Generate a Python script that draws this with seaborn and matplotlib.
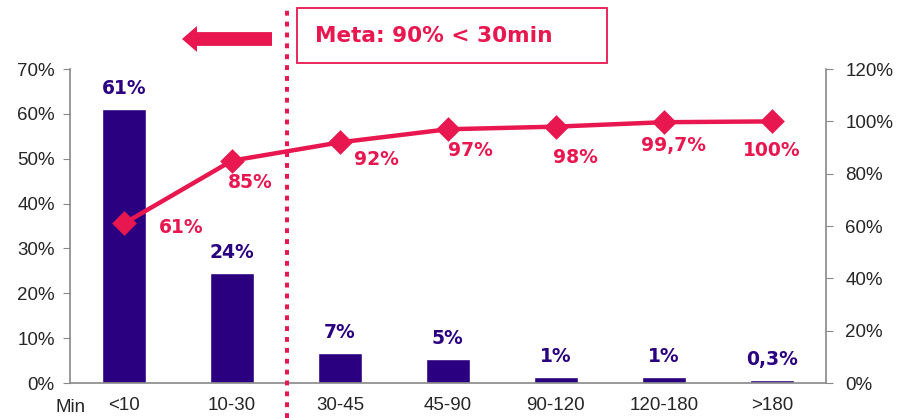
import numpy as np
import pandas as pd
import matplotlib
matplotlib.use("Agg")
import matplotlib.pyplot as plt
import seaborn as sns
from matplotlib.patches import FancyArrow, Rectangle

# ---- data ----
categories = ["<10", "10-30", "30-45", "45-90", "90-120", "120-180", ">180"]
bar_values = [61, 24.5, 6.7, 5.4, 1.4, 1.4, 0.6]
bar_labels = ["61%", "24%", "7%", "5%", "1%", "1%", "0,3%"]
cum_values = [61, 85, 92, 97, 98, 99.7, 100]
cum_labels = ["61%", "85%", "92%", "97%", "98%", "99,7%", "100%"]

BAR_C = "#2B0080"
LINE_C = "#E8174F"
AX_C = "#888888"

sns.set_style("white")
plt.rcParams['font.family'] = ['Liberation Sans', 'DejaVu Sans']

df = pd.DataFrame({"cat": categories, "val": bar_values, "cum": cum_values})

fig = plt.figure(figsize=(9.02, 4.18), dpi=100)
ax = fig.add_axes([0.0776, 0.0837, 0.838, 0.751])

# barras (distribuição)
sns.barplot(data=df, x="cat", y="val", color=BAR_C, width=0.41,
            saturation=1, ax=ax)
ax.set_xlim(-0.5, 6.5)
ax.set_ylim(0, 70)
ax.set_yticks(np.arange(0, 71, 10))
ax.set_yticklabels([f"{v}%" for v in range(0, 71, 10)], fontsize=13.5)
ax.set_xlabel("")
ax.set_ylabel("")
ax.set_xticks(np.arange(len(categories)))
ax.set_xticklabels(categories, fontsize=13.5)
ax.tick_params(axis="x", which="major", length=0, pad=10)
ax.set_xticks(np.arange(-0.5, 7, 1), minor=True)
ax.tick_params(axis="x", which="minor", length=4, color=AX_C, direction="out")
ax.tick_params(axis="y", length=5, pad=6, color=AX_C, direction="out", left=True)
for s in ["top", "right"]:
    ax.spines[s].set_visible(False)
for s in ["left", "bottom"]:
    ax.spines[s].set_color(AX_C)
    ax.spines[s].set_linewidth(1.2)

for i, (v, lab) in enumerate(zip(bar_values, bar_labels)):
    ax.annotate(lab, (i, v), xytext=(0, 8), textcoords="offset points",
                ha="center", va="bottom", fontsize=13.5, fontweight="bold",
                color=BAR_C, family="DejaVu Sans")

# linha (acumulado)
ax2 = ax.twinx()
sns.pointplot(data=df, x="cat", y="cum", color=LINE_C, markers="D",
              markersize=10.5, linewidth=3.2, ax=ax2)
ax2.set_ylim(0, 120)
ax2.set_yticks(np.arange(0, 121, 20))
ax2.set_yticklabels([f"{v}%" for v in range(0, 121, 20)], fontsize=13.5)
ax2.set_ylabel("")
ax2.set_xlabel("")
ax2.tick_params(axis="y", length=5, pad=9, color=AX_C, direction="out", right=True)
for s in ["top", "left", "bottom"]:
    ax2.spines[s].set_visible(False)
ax2.spines["right"].set_color(AX_C)
ax2.spines["right"].set_linewidth(1.2)
ax2.set_xlim(-0.5, 6.5)

offsets = [(41, -3), (13, -16), (26, -12), (16, -15), (14, -22), (7, -17), (0, -21)]
for i, (v, lab) in enumerate(zip(cum_values, cum_labels)):
    ax2.annotate(lab, (i, v), xytext=offsets[i], textcoords="offset points",
                 ha="center", va="center", fontsize=13.5, fontweight="bold",
                 color=LINE_C, family="DejaVu Sans")

# meta: linha pontilhada, seta e caixa
fig.add_artist(plt.Line2D([287 / 902, 287 / 902], [0, 1 - 10 / 418],
                          transform=fig.transFigure, color=LINE_C, lw=2.9,
                          linestyle=(0, (1.2, 1.5))))
fig.add_artist(FancyArrow(272 / 902, 1 - 39 / 418, -90 / 902, 0,
                          width=0.033, head_width=0.062, head_length=0.0166,
                          length_includes_head=True, transform=fig.transFigure,
                          color=LINE_C, lw=0))
fig.add_artist(Rectangle((297 / 902, 1 - 63 / 418), 310 / 902, 55 / 418,
                         transform=fig.transFigure, fc="white", ec=LINE_C, lw=1.3))
fig.text(434 / 902, 1 - 36 / 418, "Meta: 90% < 30min", ha="center", va="center",
         fontsize=15.6, fontweight="bold", color=LINE_C, family="DejaVu Sans")
fig.text(71 / 902, 1 - 407 / 418, "Min", ha="center", va="center", fontsize=13.5)

fig.savefig("out.png", dpi=100)
